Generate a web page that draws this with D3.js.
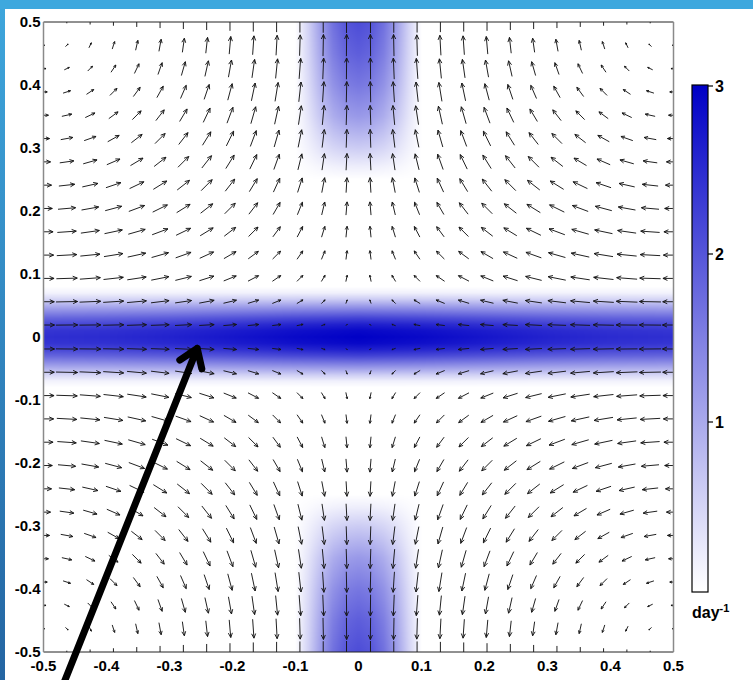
<!DOCTYPE html>
<html>
<head>
<meta charset="utf-8">
<script src="https://cdn.jsdelivr.net/npm/d3@7"></script>
<style>
  html, body { margin: 0; padding: 0; background: #fff; }
  svg { display: block; font-family: "Liberation Sans", Arial, sans-serif; }
</style>
</head>
<body>
<svg id="chart" width="753" height="680"></svg>
<script>
// grid positions (one half, the picture is mirror symmetric about x=0 and y=0)
const halfGrid = [0.5, 0.463, 0.426, 0.389, 0.352, 0.315, 0.278, 0.241, 0.204, 0.167, 0.130, 0.093, 0.056, 0.019];

// velocity in the top-left quadrant, rows from y=0.5 down, cols from x=-0.5 right
const uQuad = [
  [0,0,0,0,0,0,0,0,0,0,0,0,0,0],
  [0.12,0.12,0.11,0.11,0.10,0.10,0.09,0.08,0.07,0.06,0.05,0.03,0.02,0.01],
  [0.23,0.23,0.22,0.22,0.21,0.19,0.18,0.16,0.14,0.12,0.09,0.07,0.04,0.01],
  [0.34,0.34,0.33,0.32,0.31,0.29,0.26,0.23,0.20,0.17,0.14,0.10,0.06,0.02],
  [0.45,0.45,0.44,0.42,0.40,0.38,0.34,0.31,0.27,0.22,0.18,0.13,0.08,0.03],
  [0.55,0.55,0.54,0.52,0.49,0.46,0.42,0.38,0.33,0.27,0.22,0.16,0.10,0.03],
  [0.64,0.64,0.63,0.60,0.57,0.54,0.49,0.44,0.38,0.32,0.25,0.18,0.11,0.04],
  [0.73,0.72,0.71,0.68,0.65,0.61,0.56,0.50,0.43,0.36,0.29,0.21,0.13,0.04],
  [0.80,0.80,0.78,0.75,0.72,0.67,0.61,0.55,0.48,0.40,0.32,0.23,0.14,0.05],
  [0.87,0.86,0.84,0.81,0.77,0.72,0.66,0.59,0.52,0.43,0.34,0.25,0.15,0.05],
  [0.92,0.91,0.89,0.86,0.82,0.77,0.70,0.63,0.55,0.46,0.36,0.26,0.16,0.05],
  [0.96,0.95,0.93,0.90,0.86,0.80,0.73,0.66,0.57,0.48,0.38,0.27,0.17,0.06],
  [0.98,0.98,0.96,0.93,0.88,0.82,0.75,0.68,0.59,0.49,0.39,0.28,0.17,0.06],
  [1.00,0.99,0.97,0.94,0.89,0.83,0.76,0.68,0.60,0.50,0.40,0.29,0.17,0.06]
];
const vQuad = [
  [0,0.12,0.23,0.34,0.45,0.55,0.64,0.73,0.80,0.87,0.92,0.96,0.98,1.00],
  [0,0.12,0.23,0.34,0.45,0.55,0.64,0.72,0.80,0.86,0.91,0.95,0.98,0.99],
  [0,0.11,0.22,0.33,0.44,0.54,0.63,0.71,0.78,0.84,0.89,0.93,0.96,0.97],
  [0,0.11,0.22,0.32,0.42,0.52,0.60,0.68,0.75,0.81,0.86,0.90,0.93,0.94],
  [0,0.10,0.21,0.31,0.40,0.49,0.57,0.65,0.72,0.77,0.82,0.86,0.88,0.89],
  [0,0.10,0.19,0.29,0.38,0.46,0.54,0.61,0.67,0.72,0.77,0.80,0.82,0.83],
  [0,0.09,0.18,0.26,0.34,0.42,0.49,0.56,0.61,0.66,0.70,0.73,0.75,0.76],
  [0,0.08,0.16,0.23,0.31,0.38,0.44,0.50,0.55,0.59,0.63,0.66,0.68,0.68],
  [0,0.07,0.14,0.20,0.27,0.33,0.38,0.43,0.48,0.52,0.55,0.57,0.59,0.60],
  [0,0.06,0.12,0.17,0.22,0.27,0.32,0.36,0.40,0.43,0.46,0.48,0.49,0.50],
  [0,0.05,0.09,0.14,0.18,0.22,0.25,0.29,0.32,0.34,0.36,0.38,0.39,0.40],
  [0,0.03,0.07,0.10,0.13,0.16,0.18,0.21,0.23,0.25,0.26,0.27,0.28,0.29],
  [0,0.02,0.04,0.06,0.08,0.10,0.11,0.13,0.14,0.15,0.16,0.17,0.17,0.17],
  [0,0.01,0.01,0.02,0.03,0.03,0.04,0.04,0.05,0.05,0.05,0.06,0.06,0.06]
];

// colour field: horizontal band around y=0
const hBandX = [0, 0.1, 0.2, 0.3, 0.4, 0.5];
const hBandPeak = [3.0, 2.9, 2.75, 2.6, 2.5, 2.45];
const hBandOff = [0, 0.01, 0.02, 0.03, 0.04, 0.05, 0.06, 0.07, 0.08];
const hBandShape = [1.0, 0.97, 0.88, 0.74, 0.56, 0.38, 0.2, 0.06, 0];
// vertical band around x=0 near the top and bottom edges
const vBandY = [0.25, 0.27, 0.3, 0.35, 0.4, 0.45, 0.5];
const vBandPeak = [0, 0.2, 0.6, 1.2, 1.6, 1.9, 2.1];
const vBandOff = [0, 0.02, 0.04, 0.06, 0.08, 0.1];
const vBandShape = [1, 0.95, 0.8, 0.55, 0.25, 0];

const axisTicks = [-0.5, -0.4, -0.3, -0.2, -0.1, 0, 0.1, 0.2, 0.3, 0.4, 0.5];
const cbarTicks = [1, 2, 3];
// annotation arrow, data coords: [tail, tip]
const pointer = [[-0.468, -0.55], [-0.256, -0.018]];

const svg = d3.select("#chart");
const pLeft = 43.5, pRight = 673.5, pTop = 22, pBottom = 652;

const x = d3.scaleLinear().domain([-0.5, 0.5]).range([pLeft, pRight]);
const y = d3.scaleLinear().domain([-0.5, 0.5]).range([pBottom, pTop]);
const color = d3.scaleLinear().domain([0, 3]).range(["#ffffff", "#0000c6"]).clamp(true);

const defs = svg.append("defs");

// slide frame
const frameGrad = defs.append("linearGradient")
  .attr("id", "frame").attr("x1", 0).attr("y1", 0).attr("x2", 0).attr("y2", 1);
frameGrad.append("stop").attr("offset", 0).attr("stop-color", "#3ea6dc");
frameGrad.append("stop").attr("offset", 1).attr("stop-color", "#2465a2");
svg.append("rect").attr("x", 0).attr("y", 0).attr("width", 5).attr("height", 680).attr("fill", "url(#frame)");
svg.append("rect").attr("x", 0).attr("y", 0).attr("width", 753).attr("height", 9).attr("fill", "#3ea8de");

defs.append("clipPath").attr("id", "plotclip")
  .append("rect").attr("x", pLeft).attr("y", pTop).attr("width", pRight - pLeft).attr("height", pBottom - pTop);

// colour field drawn to a canvas, then used as image
const hPeak = d3.scaleLinear().domain(hBandX).range(hBandPeak).clamp(true);
const hShape = d3.scaleLinear().domain(hBandOff).range(hBandShape).clamp(true);
const vPeak = d3.scaleLinear().domain(vBandY).range(vBandPeak).clamp(true);
const vShape = d3.scaleLinear().domain(vBandOff).range(vBandShape).clamp(true);

const W = Math.round(pRight - pLeft), H = Math.round(pBottom - pTop);
const canvas = document.createElement("canvas");
canvas.width = W; canvas.height = H;
const ctx = canvas.getContext("2d");
const img = ctx.createImageData(W, H);
for (let py = 0; py < H; py++) {
  const yv = Math.abs(y.invert(pTop + py + 0.5));
  for (let px = 0; px < W; px++) {
    const xv = Math.abs(x.invert(pLeft + px + 0.5));
    const val = Math.max(hPeak(xv) * hShape(yv), vPeak(yv) * vShape(xv));
    const c = d3.rgb(color(val));
    const o = (py * W + px) * 4;
    img.data[o] = c.r; img.data[o + 1] = c.g; img.data[o + 2] = c.b; img.data[o + 3] = 255;
  }
}
ctx.putImageData(img, 0, 0);
svg.append("image")
  .attr("x", pLeft).attr("y", pTop).attr("width", W).attr("height", H)
  .attr("href", canvas.toDataURL());

// quiver arrows, centred on grid points
const gridX = halfGrid.map(d => -d).concat(halfGrid.slice().reverse());
const gridY = gridX.slice().reverse();
const arrows = [];
gridX.forEach((gx, i) => {
  gridY.forEach((gy, r) => {
    const kq = i < 14 ? i : 27 - i;
    const rq = r < 14 ? r : 27 - r;
    arrows.push({
      x: gx, y: gy,
      u: uQuad[rq][kq] * (i < 14 ? 1 : -1),
      v: vQuad[rq][kq] * (r < 14 ? 1 : -1)
    });
  });
});

const arrowScale = 22;
function arrowPath(d) {
  const cx = x(d.x), cy = y(d.y);
  const dx = d.u * arrowScale, dy = -d.v * arrowScale;
  const L = Math.hypot(dx, dy);
  if (L < 0.05) return "";
  const x0 = cx - dx / 2, y0 = cy - dy / 2, x1 = cx + dx / 2, y1 = cy + dy / 2;
  const ux = dx / L, uy = dy / L;
  const hl = Math.min(0.3 * L, 4.5), hw = hl * 0.45;
  const bx = x1 - ux * hl, by = y1 - uy * hl;
  return `M${x0},${y0}L${x1},${y1}` +
    `M${bx - uy * hw},${by + ux * hw}L${x1},${y1}L${bx + uy * hw},${by - ux * hw}`;
}

svg.append("g").attr("clip-path", "url(#plotclip)")
  .selectAll("path").data(arrows).join("path")
  .attr("d", arrowPath)
  .attr("fill", "none")
  .attr("stroke", "#151515")
  .attr("stroke-width", 0.95);

// axes frame
const axG = svg.append("g");
axG.append("line").attr("x1", pLeft).attr("x2", pRight).attr("y1", pTop).attr("y2", pTop).attr("stroke", "#222").attr("stroke-width", 1);
axG.append("line").attr("x1", pLeft).attr("x2", pRight).attr("y1", pBottom).attr("y2", pBottom).attr("stroke", "#222").attr("stroke-width", 1);
axG.append("line").attr("x1", pLeft).attr("x2", pLeft).attr("y1", pTop).attr("y2", pBottom).attr("stroke", "#8a8a8a").attr("stroke-width", 1.5);
axG.append("line").attr("x1", pRight).attr("x2", pRight).attr("y1", pTop).attr("y2", pBottom).attr("stroke", "#8a8a8a").attr("stroke-width", 1.5);

const labelFmt = d => d === 0 ? "0" : d3.format(".1f")(d).replace("−", "-");
axG.selectAll(".xl").data(axisTicks).join("text")
  .attr("x", d => x(d)).attr("y", pBottom + 19)
  .attr("text-anchor", "middle").attr("font-size", 15).attr("font-weight", "bold")
  .text(labelFmt);
axG.selectAll(".yl").data(axisTicks).join("text")
  .attr("x", pLeft - 3).attr("y", d => y(d) + 5)
  .attr("text-anchor", "end").attr("font-size", 15).attr("font-weight", "bold")
  .text(labelFmt);

// colour bar
const cb = { x: 692, w: 16 };
const cbY = d3.scaleLinear().domain([0, 3]).range([591, 87]);
const cbGrad = defs.append("linearGradient")
  .attr("id", "cbgrad").attr("x1", 0).attr("y1", 1).attr("x2", 0).attr("y2", 0);
d3.range(0, 3.01, 0.5).forEach(v => {
  cbGrad.append("stop").attr("offset", v / 3).attr("stop-color", color(v));
});
svg.append("rect")
  .attr("x", cb.x).attr("y", cbY(3) - 2).attr("width", cb.w).attr("height", cbY(0) - cbY(3) + 3)
  .attr("fill", "url(#cbgrad)").attr("stroke", "#000").attr("stroke-width", 1.2);
svg.selectAll(".cbt").data(cbarTicks).join("line")
  .attr("x1", cb.x + cb.w).attr("x2", cb.x + cb.w + 5)
  .attr("y1", d => cbY(d) - 1).attr("y2", d => cbY(d) - 1)
  .attr("stroke", "#000").attr("stroke-width", 1.2);
svg.selectAll(".cbl").data(cbarTicks).join("text")
  .attr("x", cb.x + cb.w + 7).attr("y", d => cbY(d) + 5)
  .attr("font-size", 16).attr("font-weight", "bold")
  .text(d => d);
const unit = svg.append("text").attr("x", 692).attr("y", 618)
  .attr("font-size", 16).attr("font-weight", "bold");
unit.append("tspan").text("day");
unit.append("tspan").attr("dy", -6).attr("font-size", 11).text("-1");

// annotation arrow
const pt0 = [x(pointer[0][0]), y(pointer[0][1])], pt1 = [x(pointer[1][0]), y(pointer[1][1])];
const ang = Math.atan2(pt1[1] - pt0[1], pt1[0] - pt0[0]);
const headLen = 21, spread = 0.6;
svg.append("path")
  .attr("d", `M${pt0[0]},${pt0[1]}L${pt1[0]},${pt1[1]}` +
    `M${pt1[0] - headLen * Math.cos(ang - spread)},${pt1[1] - headLen * Math.sin(ang - spread)}` +
    `L${pt1[0]},${pt1[1]}` +
    `L${pt1[0] - headLen * Math.cos(ang + spread)},${pt1[1] - headLen * Math.sin(ang + spread)}`)
  .attr("fill", "none").attr("stroke", "#000").attr("stroke-width", 7)
  .attr("stroke-linecap", "round").attr("stroke-linejoin", "round");
</script>
</body>
</html>
